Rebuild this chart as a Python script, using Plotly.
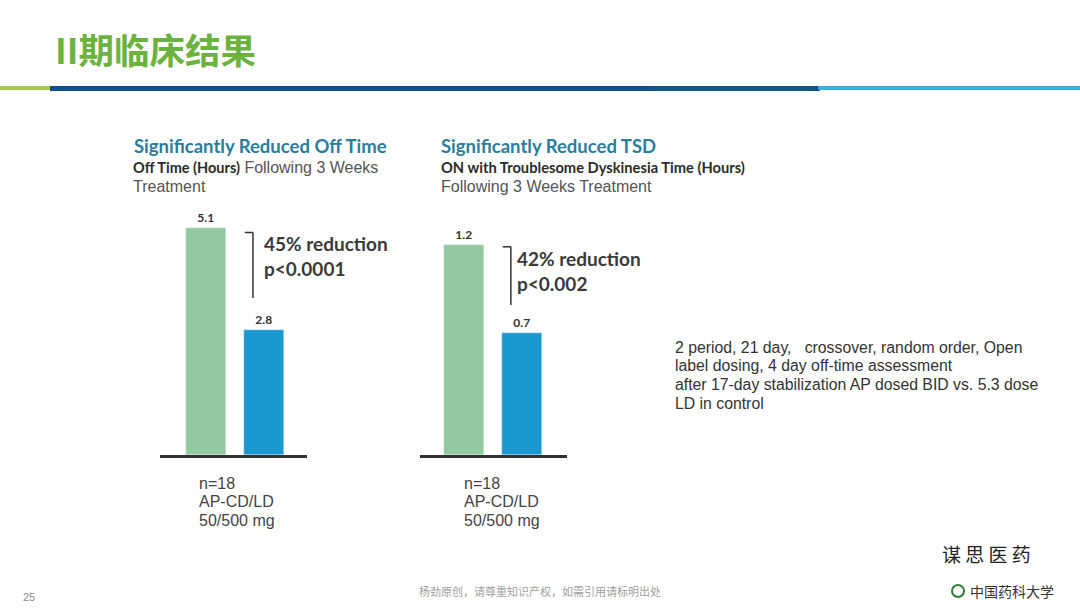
import plotly.graph_objects as go

W, H = 1080, 608

# ---- data ----
groups = ["Control LD", "AP-CD/LD"]
off_time_hours = [5.1, 2.8]
tsd_hours = [1.2, 0.7]
bar_colors = ["#93c9a1", "#1a97cf"]
off_note = ["45% reduction", "p&lt;0.0001"]
tsd_note = ["42% reduction", "p&lt;0.002"]
footnote_lines = ["n=18", "AP-CD/LD", "50/500 mg"]
design_lines = [
    "2 period, 21 day,   crossover, random order, Open",
    "label dosing, 4 day off-time assessment",
    "after 17-day stabilization AP dosed BID vs. 5.3 dose",
    "LD in control",
]

def px(x):
    return x / W

def py(y):
    return 1 - y / H

fig = go.Figure()

fig.add_trace(go.Bar(
    x=groups, y=off_time_hours, marker_color=bar_colors, width=0.7,
    text=[f"{v:.1f}" for v in off_time_hours], textposition="outside",
    textfont=dict(family="Lato", size=12, color="#333333"),
    texttemplate="<b>%{text}</b>", cliponaxis=False,
    xaxis="x", yaxis="y", showlegend=False, hoverinfo="skip",
))
fig.add_trace(go.Bar(
    x=groups, y=tsd_hours, marker_color=bar_colors, width=0.7,
    text=[f"{v:.1f}" for v in tsd_hours], textposition="outside",
    textfont=dict(family="Lato", size=12, color="#333333"),
    texttemplate="<b>%{text}</b>", cliponaxis=False,
    xaxis="x2", yaxis="y2", showlegend=False, hoverinfo="skip",
))

ydom = [py(455), py(188)]
axis_common = dict(showgrid=False, zeroline=False, showticklabels=False, ticks="",
                   fixedrange=True)
fig.update_layout(
    width=W, height=H, margin=dict(l=0, r=0, t=0, b=0),
    paper_bgcolor="white", plot_bgcolor="rgba(0,0,0,0)",
    bargap=0,
    xaxis=dict(domain=[px(160), px(307)], range=[-0.79, 1.74], showline=True,
               linecolor="#333333", linewidth=3, type="category", **axis_common),
    yaxis=dict(domain=ydom, range=[0, 6.0], anchor="x", showline=False, **axis_common),
    xaxis2=dict(domain=[px(420), px(567)], range=[-0.76, 1.78], showline=True,
                linecolor="#333333", linewidth=3, type="category", anchor="y2", **axis_common),
    yaxis2=dict(domain=ydom, range=[0, 1.526], anchor="x2", showline=False, **axis_common),
)

shapes = []
# header rule
shapes.append(dict(type="rect", xref="paper", yref="paper", x0=0, x1=px(52),
                   y0=py(90), y1=py(86), fillcolor="#a9c94d", line_width=0))
shapes.append(dict(type="rect", xref="paper", yref="paper", x0=px(50), x1=px(820),
                   y0=py(91), y1=py(86), fillcolor="#124f8c", line_width=0))
shapes.append(dict(type="rect", xref="paper", yref="paper", x0=px(650), x1=px(815),
                   y0=py(91), y1=py(86), fillcolor="#16607f", line_width=0, opacity=0.6))
shapes.append(dict(type="rect", xref="paper", yref="paper", x0=px(818), x1=1,
                   y0=py(90), y1=py(86), fillcolor="#3bb0e0", line_width=0))

# brackets (data coordinates)
def bracket(xa, ya, top, bottom):
    return [
        dict(type="line", xref=xa, yref=ya, x0=0.81, x1=0.81, y0=top, y1=bottom,
             line=dict(color="#333333", width=1.5)),
        dict(type="line", xref=xa, yref=ya, x0=0.67, x1=0.81, y0=top, y1=top,
             line=dict(color="#333333", width=1.5)),
    ]
shapes += bracket("x", "y", 5.0, 3.53)
shapes += bracket("x2", "y2", 1.19, 0.857)
# logo circle
shapes.append(dict(type="circle", xref="paper", yref="paper", x0=px(952), x1=px(964),
                   y0=py(597), y1=py(585), line=dict(color="#2f7a3a", width=2),
                   fillcolor="white"))
fig.update_layout(shapes=shapes)

ann = []
def text(x, y, s, size, color, family="Liberation Sans", xanchor="left", yanchor="middle"):
    ann.append(dict(x=px(x), y=py(y), xref="paper", yref="paper", text=s, showarrow=False,
                    xanchor=xanchor, yanchor=yanchor, align="left",
                    font=dict(family=family, size=size, color=color)))

def lines(x, y0, step, items, size, color, family="Liberation Sans"):
    for i, s in enumerate(items):
        text(x, y0 + i * step, s, size, color, family=family)

# title
text(53, 48, "<b>II期临床结果</b>", 35.5, "#6cb23f", family="Noto Sans CJK SC")

# chart 1 headings
text(132, 146, "<b>Significantly Reduced Off Time</b>", 18.5, "#2a7d9c", family="Lato")
text(131, 167, "<span style='font-family:Lato;font-size:14.5px;color:#2b2b2b'><b>Off Time (Hours)</b></span> Following 3 Weeks",
     16, "#555555")
text(131, 186, "Treatment", 16, "#555555")
# chart 2 headings
text(439, 146, "<b>Significantly Reduced TSD</b>", 18.5, "#2a7d9c", family="Lato")
text(439, 167, "<b>ON with Troublesome Dyskinesia Time (Hours)</b>", 14.7, "#2b2b2b", family="Lato")
text(439, 186, "Following 3 Weeks Treatment", 16, "#555555")

# reduction notes
lines(262, 243, 25, ["<b>" + s + "</b>" for s in off_note], 19, "#3a3a3a", family="Lato")
lines(515, 258, 25, ["<b>" + s + "</b>" for s in tsd_note], 19, "#3a3a3a", family="Lato")

# n=18 blocks
lines(197, 483, 18.5, footnote_lines, 16, "#444444")
lines(462, 483, 18.5, footnote_lines, 16, "#444444")

# design text
lines(673, 347, 18.7, design_lines, 15.8, "#333333")

# footer
text(21, 597, "25", 11, "#888888")
text(540, 591, "杨劲原创，请尊重知识产权，如需引用请标明出处", 11, "#a0a0a0",
     family="Noto Sans CJK SC", xanchor="center")
text(986, 553, "谋 思 医 药", 19, "#222222", family="Noto Sans CJK SC", xanchor="center")
text(968, 591, "中国药科大学", 14, "#333333", family="Noto Sans CJK SC")

fig.update_layout(annotations=ann)
fig.write_html("out.html", config={"displayModeBar": False},
               post_script="document.body.style.margin='0';document.body.style.overflow='hidden';")
